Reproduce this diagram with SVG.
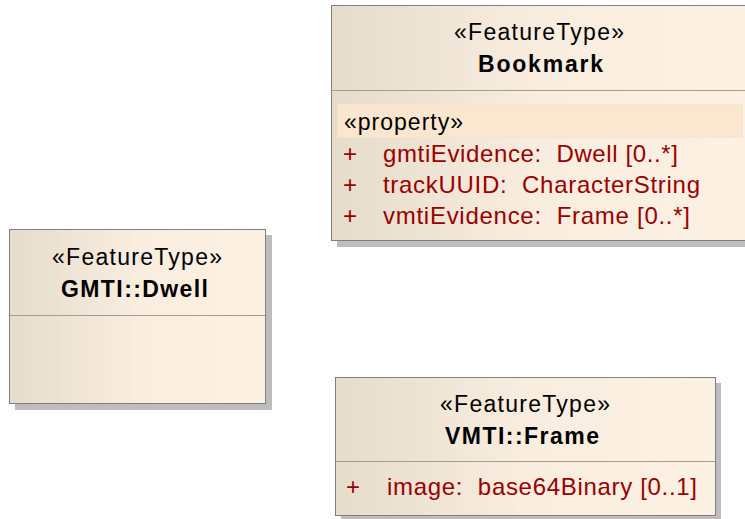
<svg xmlns="http://www.w3.org/2000/svg" width="745" height="519" viewBox="0 0 745 519">
<defs>
<linearGradient id="g" x1="0" y1="0" x2="1" y2="0">
<stop offset="0" stop-color="#E6DCCC"/>
<stop offset="0.5" stop-color="#F8EDDE"/>
<stop offset="1" stop-color="#FCF1E3"/>
</linearGradient>
<style>
.box{fill:url(#g);stroke:#7F7F7F;stroke-width:1}
.sh{fill:#BDBDBD}
.div{stroke:#A39C92;stroke-width:1.2}
text{white-space:pre}
.st{font-family:"Liberation Sans",Arial,sans-serif;font-size:23px;fill:#000}
.nm{font-family:"Liberation Sans",Arial,sans-serif;font-size:23px;font-weight:bold;fill:#000}
.at{font-family:"Liberation Sans",Arial,sans-serif;font-size:24px;fill:#990000}
.band{fill:#FBE7CF;stroke:#F6E3CA;stroke-width:1}
</style>
</defs>
<rect width="745" height="519" fill="#FFFFFF"/>
<g id="connectors"/>
<g id="Bookmark">
<rect class="sh" x="337" y="11" width="416" height="236"/>
<rect class="box" x="331.5" y="5.5" width="416" height="235"/>
<line class="div" x1="332" y1="90.5" x2="747" y2="90.5"/>
<rect class="band" x="337.5" y="104.5" width="405" height="33"/>
<text class="st" x="454" y="40" textLength="170" lengthAdjust="spacing">«FeatureType»</text>
<text class="nm" x="478" y="72" textLength="125" lengthAdjust="spacing">Bookmark</text>
<text class="st" x="344" y="130" textLength="119" lengthAdjust="spacing">«property»</text>
<text class="at" x="343" y="162">+</text>
<text class="at" x="383" y="162" textLength="295" lengthAdjust="spacing">gmtiEvidence:  Dwell [0..*]</text>
<text class="at" x="343" y="193">+</text>
<text class="at" x="383" y="193" textLength="317" lengthAdjust="spacing">trackUUID:  CharacterString</text>
<text class="at" x="343" y="224">+</text>
<text class="at" x="383" y="224" textLength="307" lengthAdjust="spacing">vmtiEvidence:  Frame [0..*]</text>
</g>
<g id="Dwell">
<rect class="sh" x="15" y="235" width="257" height="175"/>
<rect class="box" x="9.5" y="229.5" width="256" height="174"/>
<line class="div" x1="10" y1="315.5" x2="265" y2="315.5"/>
<text class="st" x="52" y="265" textLength="170" lengthAdjust="spacing">«FeatureType»</text>
<text class="nm" x="61" y="297" textLength="147" lengthAdjust="spacing">GMTI::Dwell</text>
</g>
<g id="Frame">
<rect class="sh" x="341" y="383" width="380" height="139"/>
<rect class="box" x="335.5" y="377.5" width="380" height="138"/>
<line class="div" x1="336" y1="461.5" x2="715" y2="461.5"/>
<text class="st" x="440" y="412" textLength="170" lengthAdjust="spacing">«FeatureType»</text>
<text class="nm" x="445" y="444" textLength="154" lengthAdjust="spacing">VMTI::Frame</text>
<text class="at" x="346" y="495">+</text>
<text class="at" x="387" y="495" textLength="310" lengthAdjust="spacing">image:  base64Binary [0..1]</text>
</g>
</svg>
